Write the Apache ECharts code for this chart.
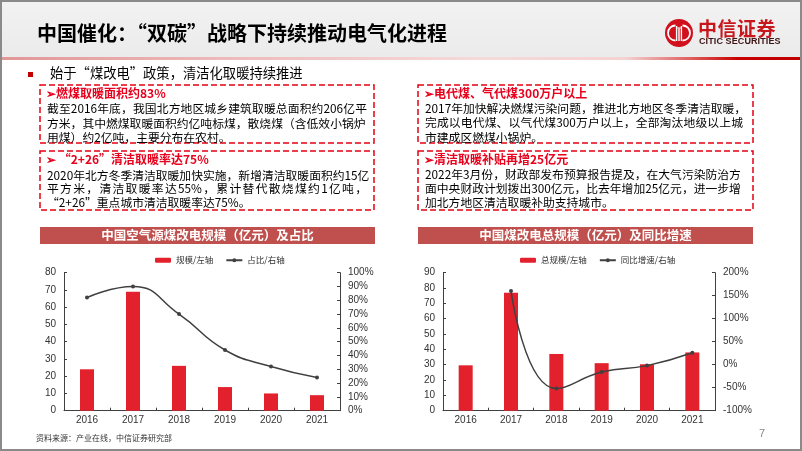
<!DOCTYPE html>
<html lang="zh-CN">
<head>
<meta charset="utf-8">
<script src="https://cdn.jsdelivr.net/npm/echarts@6/dist/echarts.min.js"></script>
<style>
  html,body{margin:0;padding:0;background:#fff;}
  #page{position:relative;width:802px;height:451px;overflow:hidden;background:#fff;font-family:"Noto Sans CJK SC","Noto Sans",sans-serif;}
  #hdr{position:absolute;left:0;top:0;width:802px;height:57px;background:linear-gradient(#f2f2f2,#ebebeb);z-index:0;}
  #redline{position:absolute;left:0;top:57px;width:802px;height:3px;z-index:0;
    background:linear-gradient(to right,#e29696 0%,#eebcbc 30%,#f6dada 60%,#f4d2d2 78%,#e06060 86%,#c80000 92%,#c00000 100%);}
  #chart{position:absolute;left:0;top:0;width:802px;height:451px;z-index:1;}
  .t{position:absolute;z-index:2;white-space:nowrap;color:#000;}
  .hd{font-weight:bold;color:#e8001c;font-size:12px;line-height:14px;}
  .ln{font-size:11.8px;line-height:14px;text-align:justify;text-align-last:justify;}
  .last{font-size:11.8px;line-height:14px;}
  #frame{position:absolute;left:0;top:0;width:802px;height:451px;box-sizing:border-box;border:2px solid #8a8a8a;z-index:5;pointer-events:none;}
</style>
</head>
<body>
<div id="page">
  <div id="hdr"></div>
  <div id="redline"></div>
  <div id="chart"></div>

  <div class="t" style="left:37px;top:20px;font-size:20px;line-height:26px;font-weight:bold;color:#000;">中国催化：“双碳”战略下持续推动电气化进程</div>

  <svg class="t" style="left:665px;top:19px;" width="28" height="28" viewBox="0 0 28 28">
    <circle cx="14" cy="14" r="14" fill="#d0101c"/>
    <path d="M10.5 6.5 A7.5 7.5 0 0 0 10.5 21.5" stroke="#fff" stroke-width="1.8" fill="none"/>
    <path d="M17.5 6.5 A7.5 7.5 0 0 1 17.5 21.5" stroke="#fff" stroke-width="1.8" fill="none"/>
    <line x1="11.6" y1="7" x2="11.6" y2="22" stroke="#fff" stroke-width="1.4"/>
    <line x1="16.4" y1="7" x2="16.4" y2="22" stroke="#fff" stroke-width="1.4"/>
    <line x1="14" y1="9.5" x2="14" y2="22" stroke="#fff" stroke-width="1.4"/>
    <line x1="12.4" y1="9" x2="15.6" y2="9" stroke="#fff" stroke-width="1.2"/>
  </svg>
  <div class="t" style="left:698px;top:16px;font-size:19px;line-height:24px;font-weight:bold;color:#c8161d;letter-spacing:0.5px;">中信证券</div>
  <div class="t" style="left:699px;top:36px;font-size:9px;line-height:11px;font-weight:bold;color:#3c1414;font-family:'Liberation Sans Narrow','Liberation Sans',sans-serif;letter-spacing:0.1px;">CITIC SECURITIES</div>

  <div class="t" style="left:28px;top:72px;width:5px;height:5px;background:#c00000;"></div>
  <div class="t" style="left:50px;top:64px;font-size:13.3px;line-height:18px;">始于“煤改电”政策，清洁化取暖持续推进</div>

  <!-- left box 1 -->
  <div class="t hd" style="left:46px;top:86px;">➢燃煤取暖面积约83%</div>
  <div class="t ln" style="left:47px;top:101px;width:320px;">截至2016年底，我国北方地区城乡建筑取暖总面积约206亿平</div>
  <div class="t ln" style="left:47px;top:115.5px;width:318px;">方米，其中燃煤取暖面积约亿吨标煤，散烧煤（含低效小锅炉</div>
  <div class="t last" style="left:47px;top:129.5px;">用煤）约2亿吨，主要分布在农村。</div>
  <!-- left box 2 -->
  <div class="t hd" style="left:46px;top:152px;">➢ “2+26”清洁取暖率达75%</div>
  <div class="t ln" style="left:47px;top:167.5px;width:320px;">2020年北方冬季清洁取暖加快实施，新增清洁取暖面积约15亿</div>
  <div class="t ln" style="left:47px;top:181px;width:320px;">平方米，清洁取暖率达55%，累计替代散烧煤约1亿吨，</div>
  <div class="t last" style="left:47px;top:194.5px;">“2+26”重点城市清洁取暖率达75%。</div>
  <!-- right box 1 -->
  <div class="t hd" style="left:424px;top:86px;">➢电代煤、气代煤300万户以上</div>
  <div class="t ln" style="left:425px;top:101px;width:318px;">2017年加快解决燃煤污染问题，推进北方地区冬季清洁取暖，</div>
  <div class="t ln" style="left:425px;top:115px;width:318px;">完成以电代煤、以气代煤300万户以上，全部淘汰地级以上城</div>
  <div class="t last" style="left:425px;top:129.5px;">市建成区燃煤小锅炉。</div>
  <!-- right box 2 -->
  <div class="t hd" style="left:424px;top:152px;">➢清洁取暖补贴再增25亿元</div>
  <div class="t ln" style="left:425px;top:167px;width:312px;">2022年3月份，财政部发布预算报告提及，在大气污染防治方</div>
  <div class="t ln" style="left:425px;top:181px;width:312px;">面中央财政计划拨出300亿元，比去年增加25亿元，进一步增</div>
  <div class="t last" style="left:425px;top:194.5px;">加北方地区清洁取暖补助支持城市。</div>

  <div class="t" style="left:36px;top:432px;font-size:8px;line-height:12px;color:#333;">资料来源：产业在线，中信证券研究部</div>
  <div class="t" style="left:759px;top:426px;font-size:11px;line-height:14px;color:#888;font-family:'Liberation Sans',sans-serif;">7</div>

  <div id="frame"></div>
</div>
<script>
// ---- data ----
const years = ['2016', '2017', '2018', '2019', '2020', '2021'];
const airScale = [24, 69, 26, 13.7, 10, 9];          // 规模/左轴 (亿元)
const airShare = [82, 90, 70, 44, 32, 24];            // 占比/右轴 (%)
const totalScale = [29.6, 77, 37, 31, 30.3, 38];      // 总规模/左轴 (亿元)
const totalYoY = ['-', 160, -52, -16, -2, 26];        // 同比增速/右轴 (%)
const chartTitles = ['中国空气源煤改电规模（亿元）及占比', '中国煤改电总规模（亿元）及同比增速'];
const legend1 = ['规模/左轴', '占比/右轴'];
const legend2 = ['总规模/左轴', '同比增速/右轴'];

const RED = '#e3212d';
const DARK = '#404040';
const narrow = "'Liberation Sans Narrow','Liberation Sans',Arial,sans-serif";

function xAxis(gi) {
  return {
    gridIndex: gi, type: 'category', data: years,
    axisLine: {lineStyle: {color: DARK, width: 1}},
    axisTick: {show: true, inside: true, length: 3, lineStyle: {color: DARK}},
    axisLabel: {fontSize: 10, color: '#333', margin: 5, fontFamily: narrow}
  };
}
function yAxis(gi, pos, min, max, interval, pct) {
  return {
    gridIndex: gi, type: 'value', position: pos, min: min, max: max, interval: interval,
    axisLine: {show: true, lineStyle: {color: DARK, width: 1}},
    axisTick: {show: true, inside: true, length: 3, lineStyle: {color: DARK}},
    splitLine: {show: false},
    axisLabel: {fontSize: 10, color: '#333', margin: 8, fontFamily: narrow,
      formatter: pct ? '{value}%' : '{value}'}
  };
}

const boxStyle = {fill: 'none', stroke: '#e60012', lineWidth: 1.5, lineDash: [6, 3]};
const chart = echarts.init(document.getElementById('chart'), null, {renderer: 'canvas'});
chart.setOption({
  animation: false,
  backgroundColor: 'transparent',
  grid: [
    {left: 64, right: 462, top: 272.7, bottom: 40.3},
    {left: 443, right: 87, top: 272.7, bottom: 40.3}
  ],
  legend: [
    {data: legend1, left: 150, top: 251, itemWidth: 16, itemHeight: 5, itemGap: 12,
      textStyle: {fontSize: 8.5, color: '#333', fontFamily: 'Noto Sans CJK SC'}},
    {data: legend2, left: 515, top: 251, itemWidth: 16, itemHeight: 5, itemGap: 12,
      textStyle: {fontSize: 8.5, color: '#333', fontFamily: 'Noto Sans CJK SC'}}
  ],
  xAxis: [xAxis(0), xAxis(1)],
  yAxis: [
    yAxis(0, 'left', 0, 80, 10, false),
    yAxis(0, 'right', 0, 100, 10, true),
    yAxis(1, 'left', 0, 90, 10, false),
    yAxis(1, 'right', -100, 200, 50, true)
  ],
  series: [
    {name: legend1[0], type: 'bar', xAxisIndex: 0, yAxisIndex: 0, data: airScale, barWidth: 14,
      itemStyle: {color: RED}},
    {name: legend1[1], type: 'line', xAxisIndex: 0, yAxisIndex: 1, data: airShare, smooth: 0.5,
      symbol: 'circle', symbolSize: 4, itemStyle: {color: DARK}, lineStyle: {color: DARK, width: 1.5}},
    {name: legend2[0], type: 'bar', xAxisIndex: 1, yAxisIndex: 2, data: totalScale, barWidth: 14,
      itemStyle: {color: RED}},
    {name: legend2[1], type: 'line', xAxisIndex: 1, yAxisIndex: 3, data: totalYoY, smooth: 0.5,
      symbol: 'circle', symbolSize: 4, itemStyle: {color: DARK}, lineStyle: {color: DARK, width: 1.5}}
  ],
  graphic: [
    {type: 'rect', shape: {x: 40, y: 85, width: 334, height: 58}, style: boxStyle},
    {type: 'rect', shape: {x: 40, y: 151, width: 334, height: 59}, style: boxStyle},
    {type: 'rect', shape: {x: 418, y: 85, width: 335, height: 58}, style: boxStyle},
    {type: 'rect', shape: {x: 418, y: 151, width: 335, height: 59}, style: boxStyle},
    {type: 'rect', shape: {x: 40, y: 227, width: 335, height: 17}, style: {fill: '#c0504d'}},
    {type: 'rect', shape: {x: 418, y: 227, width: 335, height: 17}, style: {fill: '#c0504d'}},
    {type: 'text', x: 207.5, y: 235.5, style: {text: chartTitles[0], align: 'center', verticalAlign: 'middle',
      font: 'bold 12.5px "Noto Sans CJK SC"', fill: '#fff'}},
    {type: 'text', x: 585.5, y: 235.5, style: {text: chartTitles[1], align: 'center', verticalAlign: 'middle',
      font: 'bold 12.5px "Noto Sans CJK SC"', fill: '#fff'}}
  ]
});
</script>
</body>
</html>
